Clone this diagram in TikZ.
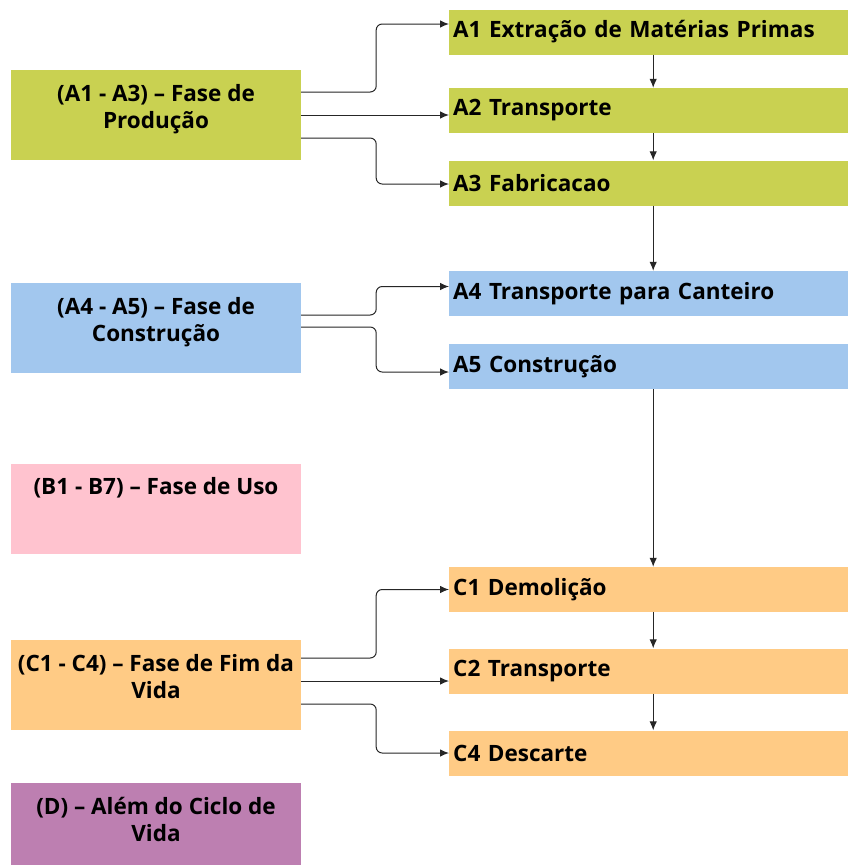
\documentclass[tikz,border=0pt]{standalone}
\usepackage{fontspec}
\setmainfont{Open Sans}
\usetikzlibrary{arrows.meta}
\tikzset{>={Latex[length=9pt,width=7.5pt]}}
\definecolor{prodgreen}{RGB}{201,209,81}
\definecolor{constblue}{RGB}{162,199,238}
\definecolor{usepink}{RGB}{255,195,207}
\definecolor{endorange}{RGB}{255,203,133}
\definecolor{beyondpurple}{RGB}{189,127,177}
\newcommand{\bend}{75}
\tikzset{
  phase/.style={minimum width=290pt, minimum height=90pt, inner sep=0pt},
  phasetext/.style={anchor=north, align=center, inner sep=0pt, yshift=-14pt,
    font=\fontsize{22.5}{27}\selectfont\bfseries},
  stage/.style={anchor=west, text width=400pt, inner xsep=4pt, inner ysep=0pt,
    minimum height=45pt, align=left, font=\fontsize{22.5}{27}\selectfont\bfseries},
  link/.style={->, line width=1pt, black!85, rounded corners=6pt}
}

\begin{document}
\begin{tikzpicture}[x=1pt,y=-1pt]
  \useasboundingbox[fill=white] (0,0) rectangle (847,865);
  % fases (coluna da esquerda)
  \node[phase,fill=prodgreen] (prod) at (156,115) {};
  \node[phasetext] (prodtxt) at (prod.north) {(A1 - A3) – Fase de\\Produção};
  \node[phase,fill=constblue] (const) at (156,328) {};
  \node[phasetext] (consttxt) at (const.north) {(A4 - A5) – Fase de\\Construção};
  \node[phase,fill=usepink] (use) at (156,508.5) {};
  \node[phasetext] (usetxt) at (use.north) {(B1 - B7) – Fase de Uso};
  \node[phase,fill=endorange] (end) at (156,685) {};
  \node[phasetext] (endtxt) at (end.north) {(C1 - C4) – Fase de Fim da\\Vida};
  \node[phase,fill=beyondpurple] (beyond) at (156,828) {};
  \node[phasetext] (beyondtxt) at (beyond.north) {(D) – Além do Ciclo de\\Vida};
  % etapas (coluna da direita)
  \node[stage,fill=prodgreen] (a1) at (449,32) {A1 Extração de Matérias Primas};
  \node[stage,fill=prodgreen] (a2) at (449,110.5) {A2 Transporte};
  \node[stage,fill=prodgreen] (a3) at (449,183) {A3 Fabricacao};
  \node[stage,fill=constblue] (a4) at (449,293.5) {A4 Transporte para Canteiro};
  \node[stage,fill=constblue] (a5) at (449,366.5) {A5 Construção};
  \node[stage,fill=endorange] (c1) at (449,589.5) {C1 Demolição};
  \node[stage,fill=endorange] (c2) at (449,671) {C2 Transporte};
  \node[stage,fill=endorange] (c4) at (449,753) {C4 Descarte};
  % ligacoes fase -> etapa
  \draw[link] ([yshift=23pt]prod.east) -- ++(\bend,0) |- ([yshift=8pt]a1.west);
  \draw[link] (prod.east) -- ([yshift=-4.5pt]a2.west);
  \draw[link] ([yshift=-23pt]prod.east) -- ++(\bend,0) |- ([yshift=-1pt]a3.west);
  \draw[link] ([yshift=13pt]const.east) -- ++(\bend,0) |- ([yshift=7pt]a4.west);
  \draw[link] ([yshift=1pt]const.east) -- ++(\bend,0) |- ([yshift=-5.5pt]a5.west);
  \draw[link] ([yshift=27pt]end.east) -- ++(\bend,0) |- (c1.west);
  \draw[link] ([yshift=4pt]end.east) -- ([yshift=-10pt]c2.west);
  \draw[link] ([yshift=-19pt]end.east) -- ++(\bend,0) |- (c4.west);
  % sequencia das etapas
  \draw[link] (a1) -- (a2);
  \draw[link] (a2) -- (a3);
  \draw[link] (a3) -- (a4);
  \draw[link] (a5) -- (c1);
  \draw[link] (c1) -- (c2);
  \draw[link] (c2) -- (c4);
\end{tikzpicture}
\end{document}
